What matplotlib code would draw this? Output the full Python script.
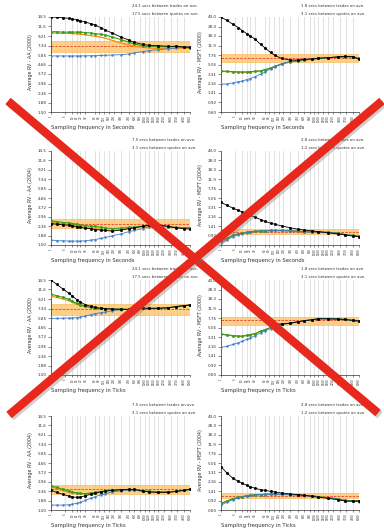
import matplotlib
matplotlib.use("Agg")
import matplotlib.pyplot as plt
import matplotlib.patheffects as pe
import numpy as np

# sampling frequencies (seconds or ticks) at which the averages were read
SAMPLING = [1, 2, 4, 7, 10, 15, 20, 30, 45, 60, 90, 120, 180, 300, 450, 600,
            900, 1200, 1800, 2700, 3600, 4800, 6000]
X_TICKS = [1, 5, 10, 15, 20, 30, 60, 80, 110, 150, 200, 300, 450, 600, 800,
           1000, 1200, 1500, 1800, 2250, 3000, 3750, 4800, 6000]

AA_TICKS = [1.50, 1.88, 2.36, 2.96, 3.72, 4.66, 5.85, 7.34, 9.21, 11.6, 14.5]
AA_LABELS = ["1.50", "1.88", "2.36", "2.96", "3.72", "4.66", "5.85", "7.34", "9.21", "11.6", "14.5"]
MSFT_TICKS = [0.60, 0.92, 1.41, 2.16, 3.31, 5.06, 7.76, 11.9, 18.3, 28.0, 43.0]
MSFT_LABELS = ["0.60", "0.92", "1.41", "2.16", "3.31", "5.06", "7.76", "11.9", "18.3", "28.0", "43.0"]

# AA 2000, seconds
AA00S_BLACK = [14.5, 14.38, 14.27, 14.05, 13.82, 13.6, 13.27, 12.85, 12.36, 11.98, 11.26, 10.63,
               9.9, 8.99, 8.37, 7.91, 7.54, 7.37, 7.31, 7.2, 7.2, 7.08, 7.03]
AA00S_GREEN = [10.2, 10.2, 10.1, 10.1, 10.1, 10.1, 10.1, 10.0, 9.9, 9.75, 9.6, 9.4,
               9.0, 8.45, 8.0, 7.6, 7.3, 7.2, 7.15, 7.1, 7.2, 7.1, 6.9]
AA00S_ORANGE = [9.9, 9.9, 9.8, 9.8, 9.75, 9.65, 9.6, 9.45, 9.3, 9.15, 8.95, 8.75,
                8.3, 7.8, 7.45, 7.2, 7.05, 6.9, 6.85, 6.85, 6.9, 6.9, 6.9]
AA00S_BLUE = [5.72, 5.72, 5.72, 5.72, 5.72, 5.72, 5.73, 5.74, 5.75, 5.77, 5.79, 5.81,
              5.85, 5.9, 6.0, 6.15, 6.35, 6.5, 6.65, 6.8, 6.9, 7.05, 7.1]
AA00S_BAND = [6.25, 7.2, 8.15]

# MSFT 2000, seconds
MS00S_BLACK = [43.0, 37.1, 31.0, 26.7, 23.4, 20.4, 18.4, 15.8, 12.6, 10.9, 8.74, 7.64,
               6.68, 6.2, 6.2, 6.39, 6.52, 6.72, 6.92, 7.13, 7.35, 7.24, 6.39]
MS00S_GREEN = [3.79, 3.73, 3.68, 3.62, 3.62, 3.62, 3.68, 3.73, 3.84, 4.02, 4.33, 4.67,
               5.2, 5.77, 6.03, 6.2, 6.5, 6.68, 6.88, 7.09, 7.2, 7.2, 6.68]
MS00S_ORANGE = [3.75, 3.7, 3.65, 3.6, 3.6, 3.6, 3.65, 3.7, 3.8, 3.98, 4.3, 4.62,
                5.15, 5.72, 6.0, 6.18, 6.45, 6.65, 6.85, 7.05, 7.15, 7.15, 6.65]
MS00S_BLUE = [2.09, 2.12, 2.22, 2.35, 2.42, 2.57, 2.69, 2.95, 3.27, 3.58, 4.21, 4.6,
              5.27, 5.84, 6.1, 6.2, 6.48, 6.68, 6.88, 7.09, 7.2, 7.2, 6.68]
MS00S_BAND = [5.67, 6.68, 8.0]

# AA 2004, seconds
AA04S_BLACK = [2.52, 2.48, 2.44, 2.42, 2.38, 2.33, 2.29, 2.25, 2.22, 2.18, 2.15, 2.13,
               2.10, 2.15, 2.22, 2.27, 2.36, 2.42, 2.44, 2.35, 2.27, 2.23, 2.20]
AA04S_GREEN = [2.69, 2.64, 2.58, 2.56, 2.52, 2.48, 2.44, 2.40, 2.36, 2.35, 2.29, 2.27,
               2.23, 2.25, 2.29, 2.31, 2.36, 2.40, 2.40, 2.33, 2.29, 2.27, 2.27]
AA04S_ORANGE = [2.60, 2.56, 2.50, 2.47, 2.43, 2.39, 2.35, 2.30, 2.25, 2.22, 2.18, 2.16,
                2.14, 2.18, 2.24, 2.28, 2.35, 2.40, 2.40, 2.33, 2.29, 2.27, 2.27]
AA04S_BLUE = [1.69, 1.67, 1.66, 1.65, 1.65, 1.65, 1.65, 1.66, 1.69, 1.71, 1.76, 1.80,
              1.87, 1.96, 2.07, 2.13, 2.23, 2.33, 2.40, 2.33, 2.29, 2.27, 2.27]
AA04S_BAND = [2.27, 2.52, 2.80]

# MSFT 2004, seconds
MS04S_BLACK = [4.16, 3.68, 3.21, 2.89, 2.72, 2.48, 2.33, 2.13, 1.91, 1.77, 1.62, 1.54,
               1.43, 1.31, 1.23, 1.19, 1.14, 1.10, 1.05, 0.99, 0.95, 0.90, 0.88]
MS04S_GREEN = [0.72, 0.81, 0.93, 0.99, 1.02, 1.07, 1.10, 1.12, 1.14, 1.15, 1.16, 1.16,
               1.16, 1.14, 1.12, 1.10, 1.09, 1.09, 1.07, 1.04, 0.96, 0.93, 0.90]
MS04S_ORANGE = [0.70, 0.80, 0.92, 0.98, 1.01, 1.06, 1.09, 1.11, 1.13, 1.14, 1.15, 1.15,
                1.15, 1.13, 1.11, 1.10, 1.09, 1.08, 1.06, 1.03, 0.96, 0.92, 0.89]
MS04S_BLUE = [0.65, 0.75, 0.88, 0.96, 1.01, 1.05, 1.09, 1.11, 1.13, 1.14, 1.15, 1.16,
              1.16, 1.14, 1.12, 1.10, 1.09, 1.08, 1.06, 1.03, 0.96, 0.92, 0.89]
MS04S_BAND = [0.98, 1.10, 1.23]

# AA 2000, ticks
AA00T_BLACK = [14.5, 13.07, 11.69, 10.63, 9.89, 9.06, 8.57, 8.04, 7.73, 7.54, 7.37, 7.31,
               7.25, 7.19, 7.19, 7.25, 7.37, 7.37, 7.37, 7.48, 7.67, 7.85, 7.98]
AA00T_GREEN = [10.3, 9.97, 9.58, 9.13, 8.71, 8.3, 8.04, 7.73, 7.54, 7.43, 7.37, 7.31,
               7.25, 7.25, 7.19, 7.25, 7.37, 7.37, 7.37, 7.48, 7.67, 7.85, 7.98]
AA00T_ORANGE = [9.89, 9.58, 9.21, 8.85, 8.5, 8.1, 7.92, 7.67, 7.54, 7.43, 7.37, 7.31,
                7.25, 7.25, 7.19, 7.25, 7.37, 7.37, 7.37, 7.48, 7.67, 7.85, 7.98]
AA00T_BLUE = [5.8, 5.8, 5.82, 5.85, 5.87, 5.9, 5.99, 6.13, 6.33, 6.49, 6.64, 6.75,
              6.97, 7.13, 7.19, 7.25, 7.37, 7.37, 7.37, 7.48, 7.67, 7.85, 7.98]
AA00T_BAND = [6.27, 7.2, 8.17]

# MSFT 2000, ticks
MS00T_BLACK = [43.0, 34.3, 26.1, 21.1, 18.4, 15.4, 13.6, 11.3, 9.17, 7.88, 6.47, 6.0,
               5.91, 6.18, 6.57, 6.88, 7.19, 7.53, 7.53, 7.42, 7.30, 6.98, 6.77]
MS00T_GREEN = [3.81, 3.64, 3.53, 3.45, 3.43, 3.58, 3.70, 3.87, 4.3, 4.57, 5.08, 5.48,
               5.91, 6.18, 6.57, 6.88, 7.19, 7.53, 7.53, 7.42, 7.30, 6.98, 6.77]
MS00T_ORANGE = [3.78, 3.62, 3.5, 3.43, 3.41, 3.55, 3.68, 3.85, 4.27, 4.55, 5.05, 5.46,
                5.9, 6.17, 6.55, 6.86, 7.17, 7.5, 7.5, 7.4, 7.28, 6.96, 6.75]
MS00T_BLUE = [2.08, 2.17, 2.38, 2.57, 2.73, 2.99, 3.17, 3.53, 3.99, 4.37, 4.85, 5.31,
              5.91, 6.18, 6.57, 6.88, 7.19, 7.53, 7.53, 7.42, 7.30, 6.98, 6.77]
MS00T_BAND = [5.73, 7.0, 8.13]

# AA 2004, ticks
AA04T_BLACK = [2.43, 2.29, 2.19, 2.10, 2.06, 2.03, 2.05, 2.12, 2.19, 2.24, 2.33, 2.37,
               2.41, 2.45, 2.47, 2.47, 2.37, 2.31, 2.29, 2.29, 2.35, 2.41, 2.47]
AA04T_GREEN = [2.69, 2.59, 2.47, 2.37, 2.31, 2.26, 2.24, 2.22, 2.26, 2.29, 2.33, 2.37,
               2.41, 2.45, 2.45, 2.43, 2.37, 2.35, 2.33, 2.33, 2.35, 2.41, 2.47]
AA04T_ORANGE = [2.63, 2.51, 2.39, 2.31, 2.27, 2.24, 2.22, 2.22, 2.26, 2.29, 2.33, 2.37,
                2.41, 2.45, 2.45, 2.43, 2.37, 2.35, 2.33, 2.33, 2.35, 2.41, 2.47]
AA04T_BLUE = [1.69, 1.69, 1.69, 1.70, 1.73, 1.76, 1.80, 1.89, 2.00, 2.06, 2.17, 2.22,
              2.31, 2.39, 2.43, 2.43, 2.37, 2.35, 2.33, 2.33, 2.35, 2.41, 2.47]
AA04T_BAND = [2.20, 2.47, 2.74]

# MSFT 2004, ticks
MS04T_BLACK = [4.30, 3.27, 2.53, 2.21, 2.02, 1.84, 1.73, 1.61, 1.51, 1.47, 1.40, 1.36,
               1.30, 1.24, 1.21, 1.17, 1.12, 1.07, 1.02, 0.96, 0.90, 0.90, 0.90]
MS04T_GREEN = [0.81, 0.90, 1.00, 1.07, 1.10, 1.15, 1.17, 1.19, 1.21, 1.22, 1.24, 1.24,
               1.22, 1.21, 1.19, 1.17, 1.14, 1.10, 1.05, 1.00, 0.93, 0.91, 0.90]
MS04T_ORANGE = [0.80, 0.89, 0.99, 1.06, 1.10, 1.14, 1.16, 1.19, 1.21, 1.22, 1.23, 1.23,
                1.22, 1.21, 1.19, 1.17, 1.14, 1.10, 1.05, 1.00, 0.93, 0.91, 0.90]
MS04T_BLUE = [0.75, 0.85, 0.96, 1.04, 1.08, 1.14, 1.16, 1.19, 1.21, 1.21, 1.23, 1.23,
              1.22, 1.21, 1.19, 1.15, 1.12, 1.08, 1.04, 0.97, 0.91, 0.89, 0.88]
MS04T_BAND = [1.02, 1.15, 1.28]

NOTES_AA00 = ["24.1 secs between trades on ave.", "17.5 secs between quotes on ave."]
NOTES_MS00 = ["1.8 secs between trades on ave.", "3.1 secs between quotes on ave."]
NOTES_AA04 = ["7.5 secs between trades on ave.", "3.1 secs between quotes on ave."]
NOTES_MS04 = ["2.8 secs between trades on ave.", "1.2 secs between quotes on ave."]

# big red cross drawn over the whole page (pixel coords)
CROSS_A = ([8, 378], [101, 413])
CROSS_B = ([9, 382], [415, 101])

W, H = 384, 530
COL_LEFT = [51, 221]
COL_WIDTH = [139, 138]
ROW_SPAN = [(17, 112), (151, 245), (280, 375), (416, 510)]


def fwd(x):
    return np.power(np.clip(x, 1e-9, None), 0.15)


def inv(y):
    return np.power(np.clip(y, 1e-9, None), 1 / 0.15)


def draw_panel(ax, yticks, ylabels, ylabel, xlabel, notes, band, black, green, orange, blue):
    ax.set_xscale("function", functions=(fwd, inv))
    ax.set_yscale("log")
    ax.set_xlim(1, 6000)
    ax.set_ylim(yticks[0], yticks[-1])

    for t in X_TICKS:
        ax.axvline(t, color="#dcdcdc", lw=0.6, zorder=0)

    ax.axhspan(band[0], band[2], facecolor="#fdc46c", edgecolor="#f6a833", lw=0.4, alpha=0.8, zorder=1)
    ax.axhline(band[1], color="#e8412a", lw=0.6, dashes=(3, 1.5), zorder=2)

    ax.plot(SAMPLING, orange, color="#ff8a00", lw=0.9, zorder=3)
    ax.plot(SAMPLING, green, color="#3a9d23", lw=0.8, marker="o", ms=1.1, zorder=4)
    ax.plot(SAMPLING, blue, color="#3d7cc9", lw=0.6, marker="o", ms=0.7, zorder=4)
    ax.plot(SAMPLING, black, color="black", lw=0.6, marker="s", ms=1.0, zorder=5)

    ax.set_yticks(yticks)
    ax.set_yticklabels(ylabels)
    ax.yaxis.set_minor_locator(matplotlib.ticker.NullLocator())
    ax.set_xticks(X_TICKS)
    ax.set_xticklabels([str(t) for t in X_TICKS], rotation=90)
    ax.xaxis.set_minor_locator(matplotlib.ticker.NullLocator())
    ax.tick_params(axis="y", labelsize=3.0, length=2, width=0.4, pad=1, colors="#333333")
    ax.tick_params(axis="x", labelsize=2.0, length=1.5, width=0.4, pad=1, colors="#333333")

    for side in ("top", "right"):
        ax.spines[side].set_visible(False)
    for side in ("left", "bottom"):
        ax.spines[side].set_linewidth(0.5)
        ax.spines[side].set_color("#333333")

    ax.text(-0.15, 0.53, ylabel, transform=ax.transAxes, rotation=90,
            ha="center", va="center", fontsize=3.4, color="#333333")
    ax.text(0.0, -0.16, xlabel, transform=ax.transAxes,
            ha="left", va="center", fontsize=3.8, color="#333333")
    ax.text(0.58, 1.12, notes[0], transform=ax.transAxes,
            ha="left", va="center", fontsize=2.8, color="#333333")
    ax.text(0.58, 1.035, notes[1], transform=ax.transAxes,
            ha="left", va="center", fontsize=2.8, color="#333333")


PANELS = [
    (0, 0, AA_TICKS, AA_LABELS, "Average RV - AA (2000)", "Sampling frequency in Seconds", NOTES_AA00,
     AA00S_BAND, AA00S_BLACK, AA00S_GREEN, AA00S_ORANGE, AA00S_BLUE),
    (0, 1, MSFT_TICKS, MSFT_LABELS, "Average RV - MSFT (2000)", "Sampling frequency in Seconds", NOTES_MS00,
     MS00S_BAND, MS00S_BLACK, MS00S_GREEN, MS00S_ORANGE, MS00S_BLUE),
    (1, 0, AA_TICKS, AA_LABELS, "Average RV - AA (2004)", "Sampling frequency in Seconds", NOTES_AA04,
     AA04S_BAND, AA04S_BLACK, AA04S_GREEN, AA04S_ORANGE, AA04S_BLUE),
    (1, 1, MSFT_TICKS, MSFT_LABELS, "Average RV - MSFT (2004)", "Sampling frequency in Seconds", NOTES_MS04,
     MS04S_BAND, MS04S_BLACK, MS04S_GREEN, MS04S_ORANGE, MS04S_BLUE),
    (2, 0, AA_TICKS, AA_LABELS, "Average RV - AA (2000)", "Sampling frequency in Ticks", NOTES_AA00,
     AA00T_BAND, AA00T_BLACK, AA00T_GREEN, AA00T_ORANGE, AA00T_BLUE),
    (2, 1, MSFT_TICKS, MSFT_LABELS, "Average RV - MSFT (2000)", "Sampling frequency in Ticks", NOTES_MS00,
     MS00T_BAND, MS00T_BLACK, MS00T_GREEN, MS00T_ORANGE, MS00T_BLUE),
    (3, 0, AA_TICKS, AA_LABELS, "Average RV - AA (2004)", "Sampling frequency in Ticks", NOTES_AA04,
     AA04T_BAND, AA04T_BLACK, AA04T_GREEN, AA04T_ORANGE, AA04T_BLUE),
    (3, 1, MSFT_TICKS, MSFT_LABELS, "Average RV - MSFT (2004)", "Sampling frequency in Ticks", NOTES_MS04,
     MS04T_BAND, MS04T_BLACK, MS04T_GREEN, MS04T_ORANGE, MS04T_BLUE),
]

fig = plt.figure(figsize=(W / 100, H / 100), dpi=100)
fig.patch.set_facecolor("white")

for row, col, *rest in PANELS:
    top, bottom = ROW_SPAN[row]
    ax = fig.add_axes([COL_LEFT[col] / W, 1 - bottom / H, COL_WIDTH[col] / W, (bottom - top) / H])
    draw_panel(ax, *rest)

over = fig.add_axes([0, 0, 1, 1])
over.set_xlim(0, W)
over.set_ylim(H, 0)
over.axis("off")
shadow = [pe.SimpleLineShadow(offset=(1.5, -1.5), shadow_color="#777777", alpha=0.35), pe.Normal()]
for xs, ys in (CROSS_A, CROSS_B):
    over.plot(xs, ys, color="#e8281c", lw=6.0, solid_capstyle="butt", path_effects=shadow)

fig.savefig("out.png", dpi=100)
